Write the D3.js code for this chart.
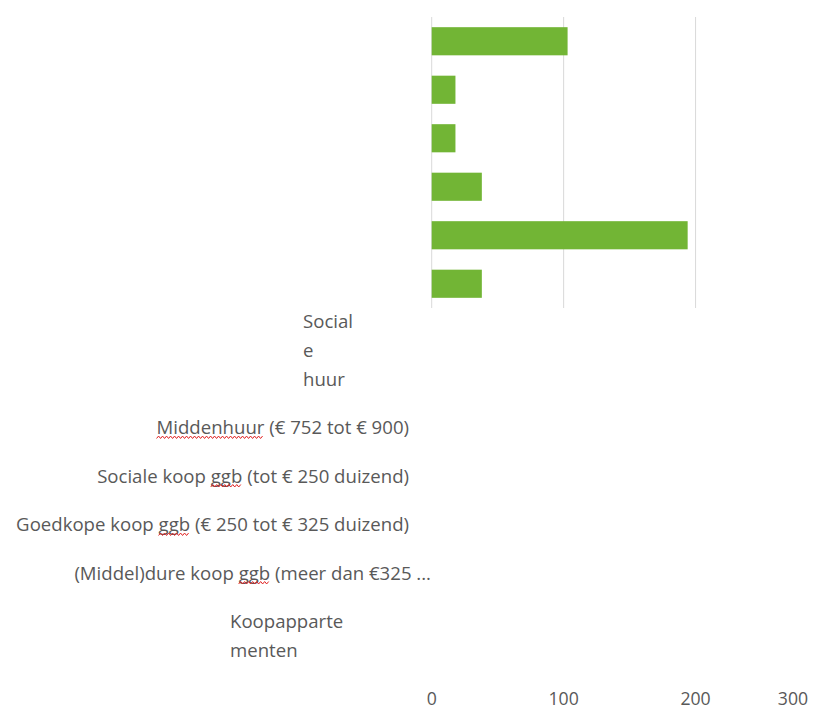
<!DOCTYPE html>
<html>
<head>
<meta charset="utf-8">
<script src="https://cdn.jsdelivr.net/npm/d3@7"></script>
<style>
  html, body { margin: 0; padding: 0; background: #fff; }
  svg { display: block; }
  text { font-family: "Open Sans", "Noto Sans", sans-serif; fill: #595959; }
</style>
</head>
<body>
<svg id="chart" width="828" height="709"></svg>
<script>
// Woningbouwprogramma per segment (aantal woningen)
const categories = [
  "Sociale huur",
  "Middenhuur (€ 752 tot € 900)",
  "Sociale koop ggb (tot € 250 duizend)",
  "Goedkope koop ggb (€ 250 tot € 325 duizend)",
  "(Middel)dure koop ggb (meer dan €325 ...",
  "Koopappartementen"
];
// wrapped forms of the narrow labels
const labelLines = [
  ["Social", "e", "huur"],
  ["Middenhuur (€ 752 tot € 900)"],
  ["Sociale koop ggb (tot € 250 duizend)"],
  ["Goedkope koop ggb (€ 250 tot € 325 duizend)"],
  ["(Middel)dure koop ggb (meer dan €325 ..."],
  ["Koopapparte", "menten"]
];
const values = [103, 18, 18, 38, 194, 38];
const tickValues = [0, 100, 200, 300];
// words flagged by the spell checker
const flaggedWords = ["Middenhuur", "ggb"];

const W = 828, H = 709;
const fs = 18.6;
const svg = d3.select("#chart");

const x = d3.scaleLinear().domain([0, 300]).range([431.7, 827.5]);
const y = d3.scaleBand().domain(categories).range([17, 308]).paddingInner(0.42).paddingOuter(0.21);

// vertical gridlines (the one at 300 falls on the right edge)
svg.append("g").selectAll("line")
  .data(tickValues.filter(d => x(d) < W - 2))
  .join("line")
  .attr("x1", d => x(d)).attr("x2", d => x(d))
  .attr("y1", 17).attr("y2", 308)
  .attr("stroke", "#d9d9d9").attr("stroke-width", 1);

// bars
svg.append("g").selectAll("rect")
  .data(values)
  .join("rect")
  .attr("x", x(0))
  .attr("y", (d, i) => y(categories[i]))
  .attr("width", d => x(d) - x(0))
  .attr("height", y.bandwidth())
  .attr("fill", "#72b535");

// category labels (displaced below the plot)
const labelOffset = 338;
const lineH = 29;
const labelG = svg.append("g").attr("font-size", fs);
const squiggles = [];
labelLines.forEach((lines, i) => {
  const cy = y(categories[i]) + y.bandwidth() / 2 + labelOffset;
  const wrapped = lines.length > 1;
  lines.forEach((ln, j) => {
    let ly;
    if (i === 0) ly = cy - (lines.length - 1 - j) * lineH;
    else ly = cy + j * lineH;
    const t = labelG.append("text")
      .attr("y", ly)
      .attr("dy", "0.35em")
      .text(ln);
    if (wrapped) {
      t.attr("x", i === 0 ? 303 : 230).attr("text-anchor", "start");
    } else if (i === 4) {
      t.attr("x", 431).attr("text-anchor", "end");
    } else {
      t.attr("x", 409).attr("text-anchor", "end");
    }
    squiggles.push({ node: t.node(), text: ln, y: ly });
  });
});

// red wavy underline under flagged words
squiggles.forEach(s => {
  flaggedWords.forEach(w => {
    const idx = s.text.indexOf(w);
    if (idx < 0) return;
    const a = s.node.getExtentOfChar(idx);
    const b = s.node.getExtentOfChar(idx + w.length - 1);
    const x0 = a.x, x1 = b.x + b.width;
    const baseY = s.y + 0.35 * fs + 3;
    const pts = [];
    for (let px = x0, k = 0; px <= x1; px += 2, k++) pts.push([px, baseY + (k % 2 ? -1.2 : 1.2)]);
    svg.append("path")
      .attr("d", d3.line()(pts))
      .attr("fill", "none")
      .attr("stroke", "#e02020")
      .attr("stroke-width", 1);
  });
});

// x-axis tick labels
svg.append("g").attr("font-size", fs * 0.95).selectAll("text")
  .data(tickValues)
  .join("text")
  .attr("x", d => Math.min(x(d), W - 35))
  .attr("y", 699)
  .attr("dy", "0.35em")
  .attr("text-anchor", "middle")
  .text(d => d);
</script>
</body>
</html>
